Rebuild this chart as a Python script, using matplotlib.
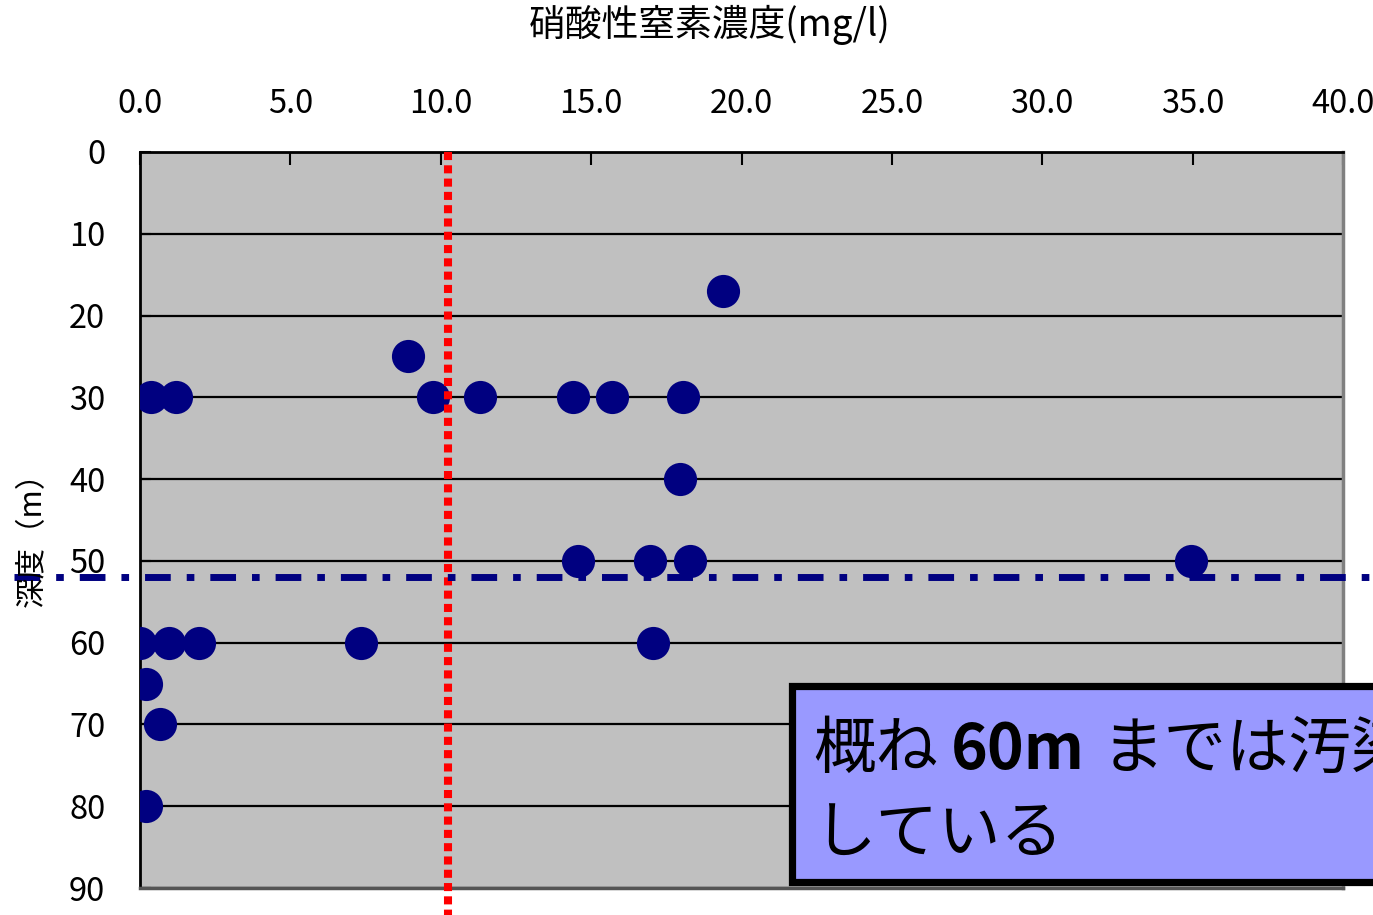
import matplotlib
matplotlib.use("Agg")
import matplotlib.pyplot as plt
from matplotlib.patches import Rectangle
from matplotlib.text import Annotation

plt.rcParams['font.family'] = ['Noto Sans CJK JP', 'DejaVu Sans']

# Nitrate-nitrogen concentration (mg/l) and well depth (m)
nitrate = [19.4, 8.9, 0.35, 1.2, 9.75, 11.3, 14.4, 15.7, 18.05, 17.95,
           14.55, 16.95, 18.3, 34.95, 0.0, 0.95, 1.95, 7.35, 17.05, 0.2,
           0.65, 0.2]
depth = [17, 25, 30, 30, 30, 30, 30, 30, 30, 40,
         50, 50, 50, 50, 60, 60, 60, 60, 60, 65,
         70, 80]

x_ticks = [0, 5, 10, 15, 20, 25, 30, 35, 40]
y_ticks = [0, 10, 20, 30, 40, 50, 60, 70, 80, 90]

standard_line = 10.25   # environmental standard guide
depth_line = 52         # depth boundary guide

title = "硝酸性窒素濃度(mg/l)"
ylabel = "深度（m）"

W, H = 1373, 915
fig = plt.figure(figsize=(W / 100, H / 100), dpi=100)
ax = fig.add_axes([140 / W, 1 - 888 / H, (1343 - 140) / W, (888 - 152) / H])
ax.set_facecolor('#C0C0C0')
ax.set_xlim(0, 40)
ax.set_ylim(90, 0)

ax.xaxis.tick_top()
ax.set_xticks(x_ticks)
ax.set_xticklabels([f"{v:.1f}" for v in x_ticks])
ax.set_yticks(y_ticks)
ax.set_yticklabels([str(v) for v in y_ticks])
ax.tick_params(axis='x', top=True, bottom=False, direction='in', length=9,
               width=1.5, pad=23, labelsize=23.5)
ax.tick_params(axis='y', direction='in', length=8, width=1.5, pad=25,
               labelsize=23.5)

ax.yaxis.grid(True, color='black', linewidth=1.6)
ax.xaxis.grid(False)
ax.set_axisbelow(True)

ax.spines['top'].set_color('black')
ax.spines['top'].set_linewidth(2)
ax.spines['left'].set_color('black')
ax.spines['left'].set_linewidth(2)
ax.spines['right'].set_color('#808080')
ax.spines['right'].set_linewidth(2.5)
ax.spines['bottom'].set_color('#555555')
ax.spines['bottom'].set_linewidth(2.5)

ax.scatter(nitrate, depth, s=570, color='#000080', zorder=3, linewidths=0)

# Guide lines (extend beyond the plotting area)
ax.plot([standard_line, standard_line], [0, 96], color='red', lw=5.8,
        dashes=(1, 0.65), dash_capstyle='butt', clip_on=False, zorder=4)
ax.plot([-4.2, 42], [depth_line, depth_line], color='#000080', lw=5,
        dashes=(3.7, 2.3, 1.1, 2.3), dash_capstyle='butt', clip_on=False,
        zorder=4)

fig.text(710 / W, 1 - 25 / H, title, ha='center', va='center', fontsize=26.5)
fig.text(32 / W, 1 - 532 / H, ylabel, ha='center', va='center',
         rotation=90, fontsize=22)

# Annotation box
bx0, by_top, by_bot = 791.5, 685.5, 881.5
box = Rectangle((bx0 / W, 1 - by_bot / H), 0.6, (by_bot - by_top) / H,
                transform=fig.transFigure, facecolor='#9999FF',
                edgecolor='black', linewidth=5.2, zorder=10, clip_on=False)
fig.add_artist(box)

fs = 45
t1 = fig.text(813 / W, 1 - 768 / H, "概ね", fontsize=fs, ha='left',
              va='baseline', zorder=11)
t2 = Annotation("60m", xy=(1, 0), xycoords=t1, xytext=(9, 0),
                textcoords='offset points', fontsize=fs, fontweight='bold',
                ha='left', va='bottom', zorder=11, annotation_clip=False)
fig.add_artist(t2)
t3 = Annotation("までは汚染", xy=(1, 0), xycoords=t2, xytext=(12, 0),
                textcoords='offset points', fontsize=fs, ha='left',
                va='bottom', zorder=11, annotation_clip=False)
fig.add_artist(t3)
fig.text(813 / W, 1 - 852 / H, "している", fontsize=fs, ha='left',
         va='baseline', zorder=11)

fig.savefig("out.png", dpi=100)
